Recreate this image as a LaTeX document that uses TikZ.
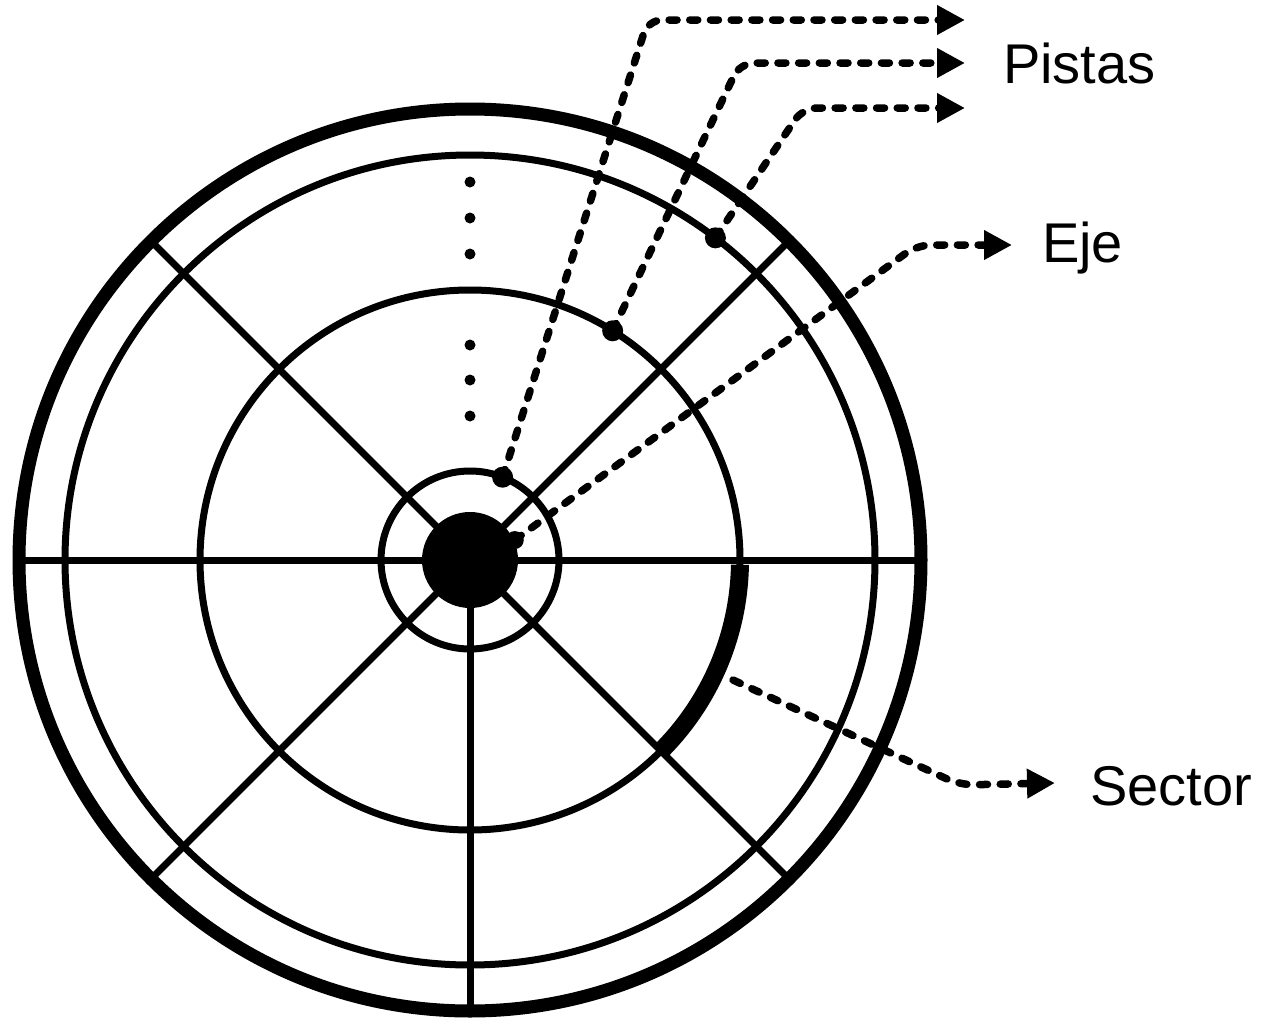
\documentclass[tikz,border=0pt]{standalone}
\usepackage{fontspec}
\setmainfont{Liberation Sans}
\usetikzlibrary{arrows.meta,calc}

\begin{document}
\begin{tikzpicture}[x=1pt,y=-1pt,>={Triangle[length=28pt,width=28pt]},line cap=round,line join=round]
\useasboundingbox (0,0) rectangle (1262,1018);
\tikzset{diskwire/.style={draw=black,line width=7pt},rimwire/.style={draw=black,line width=13pt},sectorwire/.style={draw=black,line width=18pt,line cap=butt},leader/.style={draw=black,line width=7.5pt,dash pattern=on 8pt off 12.7pt,rounded corners=14pt},tag/.style={inner sep=0pt,anchor=base west,font=\fontsize{56}{60}\selectfont}}
\coordinate (c) at (470,560);
% disk: radial lines and tracks
\draw[diskwire] ($(c)+(-450,0)$) -- ($(c)+(450,0)$);
\foreach \a in {45,90,135,225,315} \draw[diskwire] (c) -- ++(\a:448);
\draw[rimwire] (c) circle[radius=451];
\draw[diskwire] (c) circle[radius=405];
\draw[diskwire] (c) circle[radius=270];
\draw[diskwire] (c) circle[radius=89];
\fill (c) circle[radius=48];
\draw[sectorwire] ($(c)+(1:270)$) arc[start angle=1,end angle=45,radius=270];
\foreach \y in {182,218,254,345,380,416} \fill (470,\y) circle[radius=5.5];
% marked points
\coordinate (pA) at ($(c)+(-68.5:89)$);
\coordinate (pB) at ($(c)+(-58.1:270)$);
\coordinate (pC) at ($(c)+(-52.7:405)$);
\coordinate (ejeDot) at ($(c)+(-24:49)$);
\coordinate (sectorDot) at (733,680);
\foreach \p in {pA,pB,pC} \fill (\p) circle[radius=10.5];
\fill (ejeDot) circle[radius=9];
% labels
\node[tag] (pistas) at (1003,83) {Pistas};
\node[tag] (eje) at (1042,262) {Eje};
\node[tag] (sector) at (1090,805) {Sector};
\coordinate (pAend) at (965,20);
\coordinate (pBend) at (965,63);
\coordinate (pCend) at (965,108);
\coordinate (ejeEnd) at (1012,245);
\coordinate (sectorEnd) at (1055,783);
\draw[leader,->] (pA) -- (648,20) -- (pAend);
\draw[leader,->] (pB) -- (740,63) -- (pBend);
\draw[leader,->] (pC) -- (803,108) -- (pCend);
\draw[leader,->] (ejeDot) -- (917,245) -- (ejeEnd);
\draw[leader,->] (sectorDot) -- (960,785) -- (sectorEnd);
\end{tikzpicture}
\end{document}
